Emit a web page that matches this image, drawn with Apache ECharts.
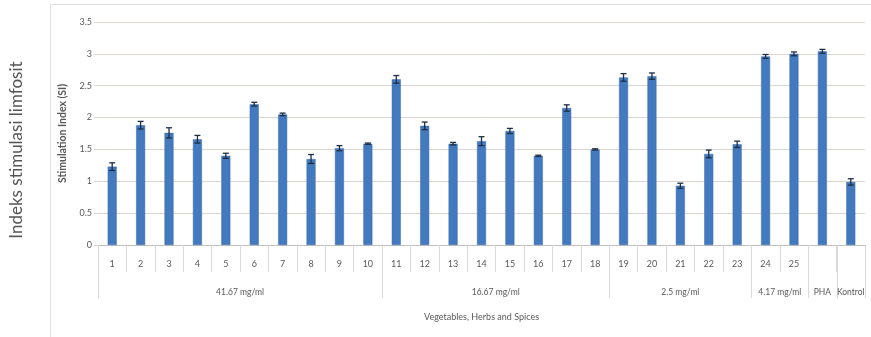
<!DOCTYPE html>
<html>
<head>
<meta charset="utf-8">
<script src="https://cdn.jsdelivr.net/npm/echarts@6/dist/echarts.min.js"></script>
<style>
  html, body { margin: 0; padding: 0; background: #ffffff; }
  #chart { width: 871px; height: 337px; }
</style>
</head>
<body>
<div id="chart"></div>
<script>
// Sample labels (1–25 are extracts, then the two references)
const categories = ['1','2','3','4','5','6','7','8','9','10','11','12','13','14','15','16','17','18','19','20','21','22','23','24','25','',''];
// Mean stimulation index per sample
const siValues = [1.23, 1.88, 1.76, 1.66, 1.40, 2.21, 2.05, 1.35, 1.52, 1.59,
                  2.60, 1.87, 1.59, 1.63, 1.79, 1.40, 2.15, 1.50,
                  2.63, 2.65, 0.93, 1.43, 1.58,
                  2.96, 3.00,
                  3.04, 0.99];
// Error (± SD) per sample
const siErrors = [0.06, 0.06, 0.08, 0.06, 0.04, 0.03, 0.02, 0.07, 0.04, 0.01,
                  0.06, 0.06, 0.02, 0.07, 0.04, 0.01, 0.05, 0.01,
                  0.06, 0.05, 0.04, 0.06, 0.05,
                  0.03, 0.03,
                  0.03, 0.05];
// Concentration groups: first index, last index, label
const groupStart = [0, 10, 18, 23, 25, 26];
const groupEnd   = [9, 17, 22, 24, 25, 26];
const groupLabels = ['41.67 mg/ml', '16.67 mg/ml', '2.5 mg/ml', '4.17 mg/ml', 'PHA', 'Kontrol'];
const yTicks = { min: 0, max: 3.5, step: 0.5 };

const FONT = 'Lato, "Liberation Sans", sans-serif';
const TXT = '#595959';
const LINE = '#d9d9d9';

const chart = echarts.init(document.getElementById('chart'), null, { renderer: 'canvas' });

const errorData = siValues.map((v, i) => [i, v, siErrors[i]]);
const groupData = groupStart.map((s, i) => [s, groupEnd[i], groupLabels[i]]);

chart.setOption({
  animation: false,
  backgroundColor: '#ffffff',
  textStyle: { fontFamily: FONT },
  grid: { left: 98, right: 6, top: 22, bottom: 92 },
  graphic: [
    {
      type: 'rect',
      shape: { x: 50.5, y: 4.5, width: 830, height: 340 },
      style: { fill: 'none', stroke: '#e0e0e0', lineWidth: 1 },
      silent: true, z: -10
    },
    {
      type: 'text',
      x: 17, y: 150,
      rotation: Math.PI / 2,
      style: {
        text: 'Indeks stimulasi limfosit',
        fill: '#555555',
        font: '17px ' + FONT,
        align: 'center', verticalAlign: 'middle'
      }
    }
  ],
  xAxis: {
    type: 'category',
    data: categories,
    boundaryGap: true,
    axisLine: { show: true, lineStyle: { color: '#bfbfbf', width: 1 } },
    axisTick: { show: true, interval: 0, length: 27, lineStyle: { color: LINE } },
    axisLabel: { interval: 0, color: TXT, fontSize: 9, margin: 15, fontFamily: FONT },
    name: 'Vegetables, Herbs and Spices',
    nameLocation: 'middle',
    nameGap: 68,
    nameTextStyle: { color: TXT, fontSize: 9, fontFamily: FONT }
  },
  yAxis: {
    type: 'value',
    min: yTicks.min, max: yTicks.max, interval: yTicks.step,
    axisLine: { show: false },
    axisTick: { show: true, length: 4, lineStyle: { color: LINE } },
    axisLabel: { color: TXT, fontSize: 9, margin: 6, fontFamily: FONT },
    splitLine: { show: true, lineStyle: { color: '#ddd6cf', width: 1 } },
    name: 'Stimulation Index (SI)',
    nameLocation: 'middle',
    nameGap: 30,
    nameTextStyle: { color: TXT, fontSize: 10.5, fontWeight: 'bold', fontFamily: FONT }
  },
  series: [
    {
      type: 'bar',
      data: siValues,
      barWidth: 9,
      itemStyle: { color: '#4279bf', borderColor: '#3a6aa8', borderWidth: 0.5 },
      z: 2
    },
    {
      type: 'custom',
      data: errorData,
      z: 3,
      renderItem: function (params, api) {
        const i = api.value(0), v = api.value(1), e = api.value(2);
        const hi = api.coord([i, v + e]);
        const lo = api.coord([i, v - e]);
        const hw = 3;
        const st = { stroke: '#1f2f44', lineWidth: 1.3 };
        return {
          type: 'group',
          children: [
            { type: 'line', shape: { x1: hi[0], y1: hi[1], x2: lo[0], y2: lo[1] }, style: st },
            { type: 'line', shape: { x1: hi[0] - hw, y1: hi[1], x2: hi[0] + hw, y2: hi[1] }, style: st },
            { type: 'line', shape: { x1: lo[0] - hw, y1: lo[1], x2: lo[0] + hw, y2: lo[1] }, style: st }
          ]
        };
      }
    },
    {
      // concentration brackets below the sample labels
      type: 'custom',
      data: groupData,
      clip: false,
      silent: true,
      renderItem: function (params, api) {
        const s = api.value(0), e = api.value(1);
        const band = api.size([1, 0])[0];
        const p0 = api.coord([s, 0]);
        const p1 = api.coord([e, 0]);
        const xl = p0[0] - band / 2, xr = p1[0] + band / 2, y0 = p0[1];
        const st = { stroke: LINE, lineWidth: 1 };
        return {
          type: 'group',
          children: [
            { type: 'line', shape: { x1: Math.round(xl) + 0.5, y1: y0, x2: Math.round(xl) + 0.5, y2: y0 + 53 }, style: st },
            { type: 'line', shape: { x1: Math.round(xr) + 0.5, y1: y0, x2: Math.round(xr) + 0.5, y2: y0 + 53 }, style: st },
            { type: 'text', x: (xl + xr) / 2, y: y0 + 47,
              style: { text: groupLabels[params.dataIndex], fill: TXT, font: '8.5px ' + FONT, align: 'center', verticalAlign: 'middle' } }
          ]
        };
      }
    }
  ]
});
</script>
</body>
</html>
